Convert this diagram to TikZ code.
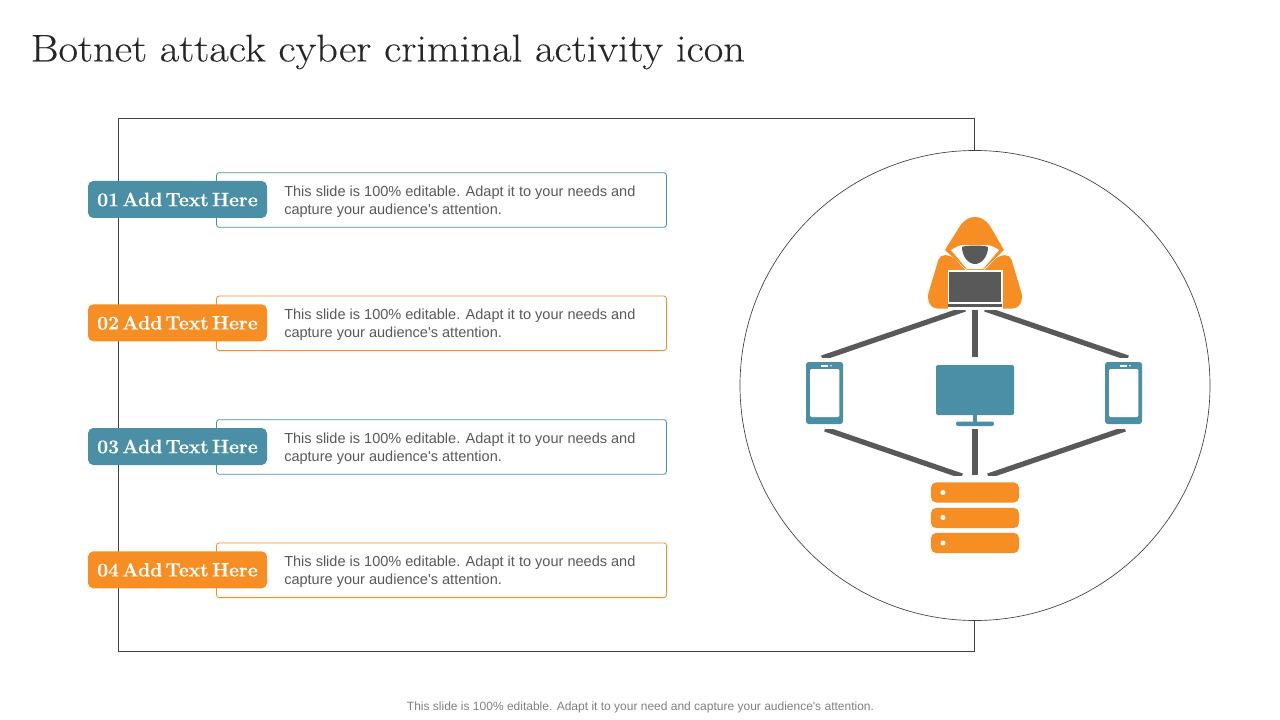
\documentclass[tikz,border=0pt]{standalone}
\usepackage{fontspec}
\setmainfont{Latin Modern Roman}[BoldFeatures={FakeBold=0.4}]
\setsansfont{Liberation Sans}
\newfontfamily\titlefont[FakeStretch=1.1,FakeBold=0.25]{Latin Modern Roman}
\usepackage{tikz}
\definecolor{tealc}{HTML}{4A8FA5}
\definecolor{orangec}{HTML}{F78E23}
\definecolor{grayc}{HTML}{595959}
\definecolor{framec}{HTML}{404040}
\newcommand{\bodylines}{This slide is 100\% editable. Adapt it to your needs and\\capture your audience\textquotesingle s attention.}
\newcommand{\tagtext}[1]{\spaceskip=0.17em\relax #1}
\tikzstyle{titletext} = [anchor=west,inner sep=0pt,text=black!85,font=\titlefont\fontsize{28.95}{32}\selectfont]
\tikzstyle{tag} = [rounded corners=4pt,minimum width=134.25pt,minimum height=27.75pt,inner sep=0pt,text=white,font=\fontsize{14.5}{17}\selectfont\bfseries]
\tikzstyle{card} = [draw,fill=white,rounded corners=2pt,line width=0.6pt,minimum width=337.5pt,minimum height=41pt,inner sep=0pt]
\tikzstyle{bodytext} = [anchor=west,inner sep=0pt,align=left,text=grayc,font=\sffamily\fontsize{10.9}{13.7}\selectfont]
\tikzstyle{wire} = [grayc,line width=3.9pt]
\tikzstyle{phone} = [fill=tealc,rounded corners=2pt,minimum width=27.75pt,minimum height=46.5pt,inner sep=0pt]
\tikzstyle{screen} = [fill=white,rounded corners=1pt,minimum width=22pt,minimum height=36pt,inner sep=0pt]
\tikzstyle{rack} = [fill=orangec,rounded corners=4pt,minimum width=66pt,minimum height=15.2pt,inner sep=0pt]
\tikzstyle{led} = [circle,fill=white,minimum size=3.8pt,inner sep=0pt]

\begin{document}
\begin{tikzpicture}[x=0.75pt,y=-0.75pt]
	\useasboundingbox (0, 0) rectangle (1280, 720);
	\node[titletext] (title) at (30.5, 52) {Botnet attack cyber criminal activity icon};
	\draw[framec,line width=0.6pt] (118.5, 118.5) rectangle (974.5, 651.5);
	\filldraw[fill=white,draw=framec,line width=0.5pt] (975, 385.5) circle (235);

	\node[card,draw=tealc] (cardone) at (441.5, 200) {};
	\node[tag,fill=tealc] (tagone) at (177.5, 199.5) {\tagtext{01 Add Text Here}};
	\node[bodytext] (textone) at (284, 201.5) {\bodylines};
	\node[card,draw=orangec] (cardtwo) at (441.5, 323.3) {};
	\node[tag,fill=orangec] (tagtwo) at (177.5, 322.8) {\tagtext{02 Add Text Here}};
	\node[bodytext] (texttwo) at (284, 324.8) {\bodylines};
	\node[card,draw=tealc] (cardthree) at (441.5, 447) {};
	\node[tag,fill=tealc] (tagthree) at (177.5, 446.5) {\tagtext{03 Add Text Here}};
	\node[bodytext] (textthree) at (284, 448.5) {\bodylines};
	\node[card,draw=orangec] (cardfour) at (441.5, 570.3) {};
	\node[tag,fill=orangec] (tagfour) at (177.5, 569.8) {\tagtext{04 Add Text Here}};
	\node[bodytext] (textfour) at (284, 571.8) {\bodylines};

	\coordinate (hackerleft) at (965, 309);
	\coordinate (hackermid) at (975, 310);
	\coordinate (hackerright) at (985, 309);
	\coordinate (rackleft) at (962, 476);
	\coordinate (rackmid) at (975, 475);
	\coordinate (rackright) at (988, 476);
	\coordinate (phoneleftup) at (822, 358);
	\coordinate (phonerightup) at (1128, 358);
	\coordinate (phoneleftdown) at (825, 429);
	\coordinate (phonerightdown) at (1125, 429);
	\coordinate (monitorup) at (975, 357);
	\coordinate (monitordown) at (975, 429);
	\begin{scope}
		\clip (800, 310) rectangle (1150, 357.5);
		\draw[wire] (hackerleft) -- (phoneleftup);
		\draw[wire] (hackerright) -- (phonerightup);
	\end{scope}
	\begin{scope}
		\clip (800, 429) rectangle (1150, 475);
		\draw[wire] (phoneleftdown) -- (rackleft);
		\draw[wire] (phonerightdown) -- (rackright);
	\end{scope}
	\draw[wire] (hackermid) -- (monitorup);
	\draw[wire] (monitordown) -- (rackmid);

	\node[phone] (phoneleft) at (824.5, 393) {};
	\node[screen] (screenleft) at (824.7, 393) {};
	\fill[white] (821, 365) rectangle (828, 366.7);
	\fill[white] (831, 365.8) circle (0.9);
	\node[phone] (phoneright) at (1123.5, 393) {};
	\node[screen] (screenright) at (1123.7, 393) {};
	\fill[white] (1120, 365) rectangle (1127, 366.7);
	\fill[white] (1130, 365.8) circle (0.9);

	\filldraw[fill=tealc,draw=none,rounded corners=1.5pt] (936, 365) rectangle (1014, 415);
	\fill[tealc] (973, 414) rectangle (977, 423);
	\fill[tealc,rounded corners=1.5pt] (956, 421.5) rectangle (994, 426);

	\node[rack] (rackone) at (975, 492.5) {};
	\node[rack] (racktwo) at (975, 518) {};
	\node[rack] (rackthree) at (975, 543) {};
	\node[led] (ledone) at (943, 492.5) {};
	\node[led] (ledtwo) at (943, 517.5) {};
	\node[led] (ledthree) at (943, 543) {};

	\fill[orangec] (945, 250) -- (960, 226) .. controls (965, 219) and (970, 217) .. (975, 217) .. controls (980, 217) and (985, 219) .. (990, 226) -- (1004, 250) -- (982, 271) -- (968, 271) -- cycle;
	\fill[white] (951, 250) .. controls (955, 248) and (958, 245) .. (964, 245) -- (986, 245) .. controls (992, 245) and (995, 248) .. (999, 250) -- (983, 269) -- (967, 269) -- cycle;
	\fill[grayc] (962, 247) .. controls (966, 245) and (984, 245) .. (988, 247) .. controls (988, 256) and (982, 264) .. (975, 264) .. controls (968, 264) and (962, 256) .. (962, 247) -- cycle;
	\fill[orangec,rounded corners=4pt] (940, 254.5) -- (952, 256) -- (967, 272) -- (983, 272) -- (998, 256) -- (1010, 254.5) -- (1023, 298) -- (1018, 308.5) -- (932, 308.5) -- (927, 298) -- cycle;
	\fill[white] (947.5, 269.5) rectangle (1002.5, 309);
	\fill[grayc] (949.3, 271.5) rectangle (1000.7, 301.5);
	\fill[grayc] (948, 304) rectangle (1002, 306.7);

	\node[inner sep=0pt,text=black!50,font=\sffamily\fontsize{9}{11}\selectfont] (footer) at (640.5, 707) {This slide is 100\% editable. Adapt it to your need and capture your audience\textquotesingle s attention.};
\end{tikzpicture}
\end{document}
